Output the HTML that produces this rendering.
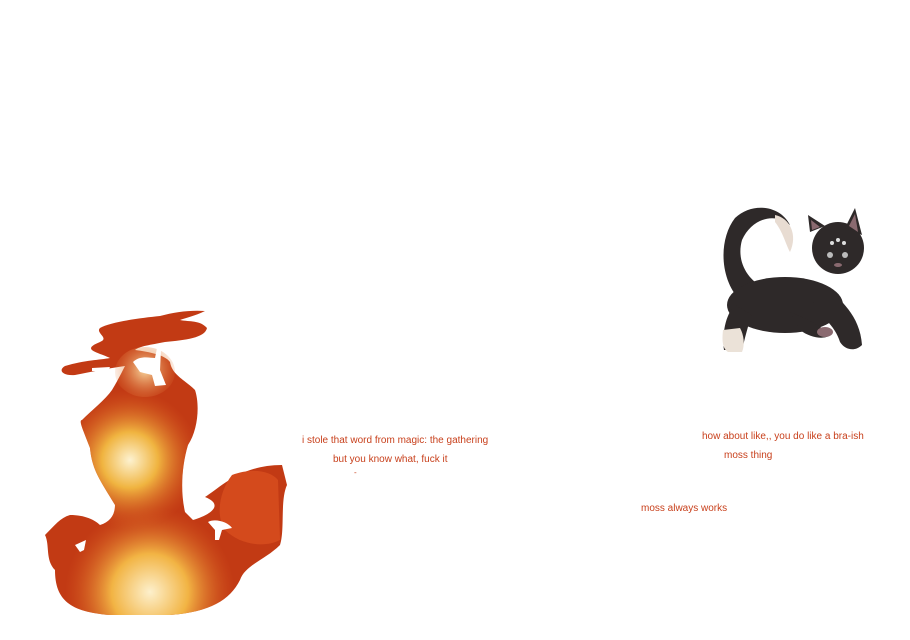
<!DOCTYPE html>
<html><head><meta charset="utf-8"><style>
html,body{margin:0;padding:0;background:#fff;width:910px;height:640px;overflow:hidden;position:relative}
.t{position:absolute;font-family:"Liberation Sans",sans-serif;font-size:10px;color:#c8401c;white-space:nowrap}
svg{position:absolute;left:0;top:0}
</style></head><body>
<svg width="910" height="640" viewBox="0 0 910 640">
<defs>
<radialGradient id="g1" cx="130" cy="460" r="70" gradientUnits="userSpaceOnUse">
<stop offset="0" stop-color="#fdf2d0"/><stop offset="0.4" stop-color="#f0b440"/><stop offset="1" stop-color="#d85a20" stop-opacity="0"/></radialGradient>
<radialGradient id="g2" cx="150" cy="592" r="85" gradientUnits="userSpaceOnUse">
<stop offset="0" stop-color="#fdf0cc"/><stop offset="0.45" stop-color="#f2b444"/><stop offset="1" stop-color="#d85a20" stop-opacity="0"/></radialGradient>
<radialGradient id="g3" cx="145" cy="370" r="35" gradientUnits="userSpaceOnUse">
<stop offset="0" stop-color="#f7d8a0"/><stop offset="1" stop-color="#e07030" stop-opacity="0"/></radialGradient>
<path id="f" d="M100,328 C110,322 140,318 160,316 C175,312 190,310 205,311 C195,316 185,318 180,320 C190,322 200,320 207,328 C205,338 185,340 165,342 C150,345 140,346 135,350 C150,352 165,355 170,362 C172,375 185,380 195,390 C200,405 198,430 188,445 C182,465 180,490 185,512 L193,520 C210,515 225,505 205,497 C220,488 240,465 282,465 L287,485 C280,500 285,530 280,545 C265,560 245,565 240,580 C230,600 210,612 170,615 L110,615 C70,612 55,600 55,570 C45,560 50,545 45,535 C55,525 60,518 70,515 C85,515 95,520 100,525 C110,522 115,515 115,505 C100,480 92,470 90,448 C84,432 78,420 82,420 C92,410 105,400 112,390 C118,380 122,372 125,366 C110,368 90,372 75,375 C62,376 58,370 65,366 C85,360 100,360 110,358 C98,352 80,350 100,342 C110,338 95,333 100,328 Z"/>
</defs>
<use href="#f" fill="#c23a14"/>
<use href="#f" fill="url(#g1)"/>
<use href="#f" fill="url(#g2)"/>
<ellipse cx="145" cy="372" rx="30" ry="25" fill="url(#g3)"/>
<path d="M232,475 C250,468 270,470 278,480 L280,540 C265,548 240,545 225,530 C215,515 220,490 232,475Z" fill="#d44a1c"/>
<path d="M133,362 C140,355 150,358 155,358 L157,348 L161,350 L160,370 L166,385 L155,386 L152,375 L140,372Z" fill="#fff"/>
<path d="M92,368 L110,367 L108,371 L92,371Z" fill="#fff"/>
<path d="M208,522 C215,518 228,522 232,528 L222,530 L219,540 L215,540 L215,530Z" fill="#fff"/>
<path d="M75,545 L86,540 L84,550 L80,552Z" fill="#fff"/>
<!-- cat -->
<path d="M740,300 C720,280 718,240 735,218 C752,202 780,205 790,225 C775,212 752,218 742,240 C735,265 752,285 770,290Z" fill="#2e2929"/>
<path d="M775,215 C790,218 798,235 790,252 C786,245 783,232 775,222Z" fill="#e8dcd2"/>
<ellipse cx="785" cy="305" rx="58" ry="28" fill="#2e2929"/>
<ellipse cx="838" cy="248" rx="26" ry="26" fill="#2e2929"/>
<path d="M810,232 L808,215 L825,226Z M845,228 L855,208 L862,235Z" fill="#2e2929"/>
<path d="M812,230 L811,220 L820,227Z M849,226 L855,214 L858,232Z" fill="#8a6a70"/>
<path d="M825,285 C840,300 860,315 862,345 C855,352 845,350 840,342 C835,325 820,315 812,305Z" fill="#2e2929"/>
<path d="M790,312 C805,318 820,325 830,335 C825,340 810,338 800,330Z" fill="#2e2929"/>
<path d="M735,305 C725,315 722,335 724,350 L742,350 C745,338 748,325 752,315Z" fill="#2e2929"/>
<path d="M723,330 C722,340 722,348 728,352 L742,352 C745,345 744,335 740,328Z" fill="#ebe2d8"/>
<ellipse cx="825" cy="332" rx="8" ry="5" fill="#8a6a70"/>
<circle cx="830" cy="255" r="3" fill="#bbb"/><circle cx="845" cy="255" r="3" fill="#bbb"/>
<circle cx="838" cy="240" r="2" fill="#ddd"/><circle cx="832" cy="243" r="2" fill="#ddd"/><circle cx="844" cy="243" r="2" fill="#ddd"/>
<ellipse cx="838" cy="265" rx="4" ry="2" fill="#8a6a70"/>
</svg>
<div class="t" style="left:302px;top:435px">i stole that word from magic: the gathering</div>
<div class="t" style="left:333px;top:454px">but you know what, fuck it</div>
<div class="t" style="left:354px;top:468px;font-size:8px">-</div>
<div class="t" style="left:702px;top:431px">how about like,, you do like a bra-ish</div>
<div class="t" style="left:724px;top:450px">moss thing</div>
<div class="t" style="left:641px;top:503px">moss always works</div>
</body></html>
